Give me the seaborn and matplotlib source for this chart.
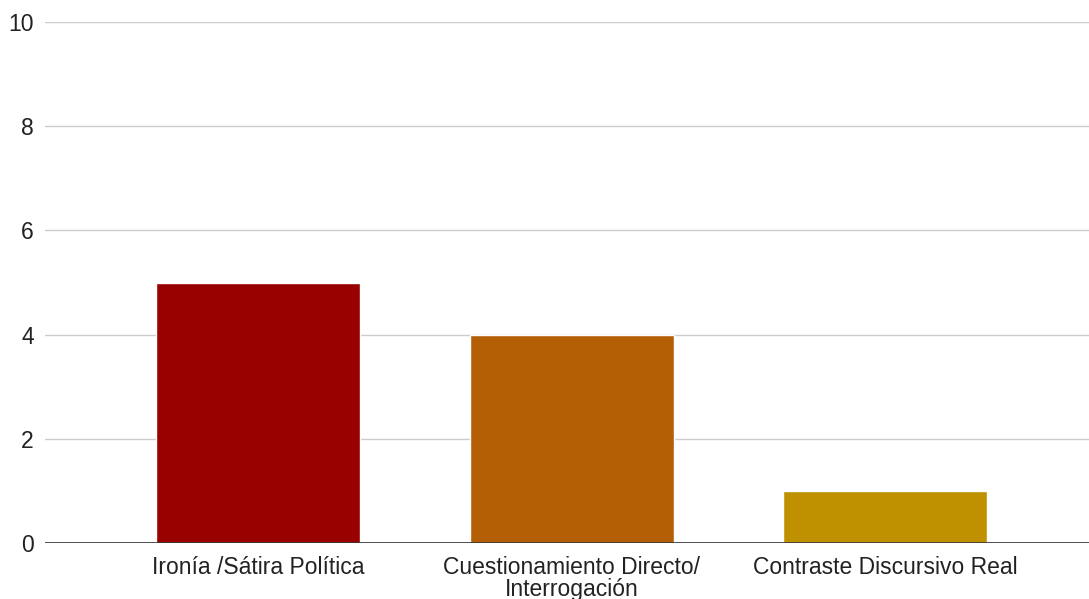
import pandas as pd
import matplotlib.pyplot as plt
import seaborn as sns

categorias = ['Ironía /Sátira Política', 'Cuestionamiento Directo/\nInterrogación', 'Contraste Discursivo Real']
valores = [5, 4, 1]
colores = ['#990000', '#b45f06', '#bf9000']

df = pd.DataFrame({'categoria': categorias, 'valor': valores})

sns.set_style('white')
plt.rcParams['font.family'] = ['Liberation Sans', 'DejaVu Sans']

fig = plt.figure(figsize=(10.89, 5.99), dpi=100)
ax = fig.add_axes([45 / 1089, 1 - 543 / 599, 1 - 45 / 1089, (543 - 22) / 599])

sns.barplot(data=df, x='categoria', y='valor', hue='categoria', palette=colores,
            width=0.65, legend=False, ax=ax, saturation=1)

ax.set_ylim(0, 10)
ax.set_xlim(-0.68, 2.65)
ax.set_yticks([0, 2, 4, 6, 8, 10])
ax.yaxis.grid(True, color='#cccccc', linewidth=1)
ax.set_axisbelow(True)
ax.axhline(0, color='#333333', linewidth=1.2)
for s in ax.spines.values():
    s.set_visible(False)
ax.set_xlabel('')
ax.set_ylabel('')
ax.tick_params(axis='both', length=0, labelsize=16.5, colors='#222222')
ax.tick_params(axis='x', pad=9)
ax.tick_params(axis='y', pad=8)
for lbl in ax.get_xticklabels():
    lbl.set_linespacing(0.95)

fig.savefig('out.png', dpi=100)
